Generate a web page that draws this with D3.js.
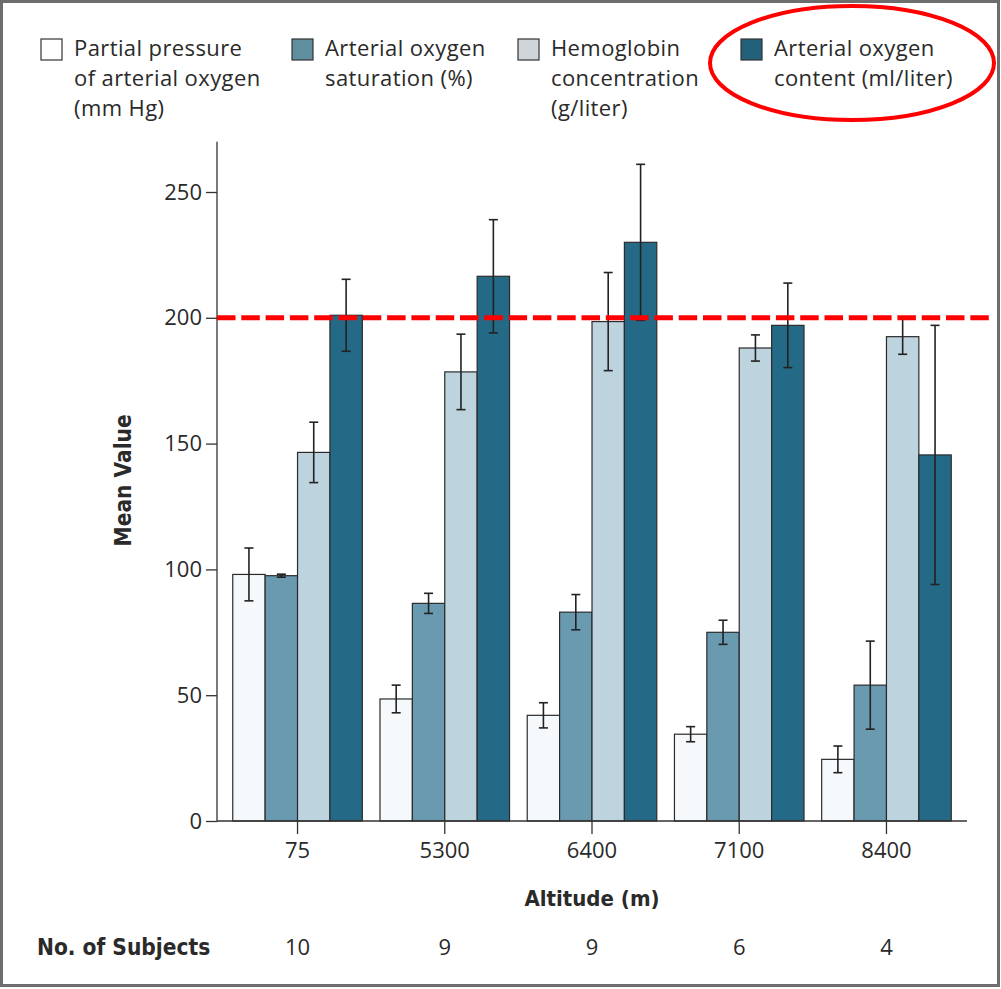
<!DOCTYPE html>
<html>
<head>
<meta charset="utf-8">
<script src="https://cdn.jsdelivr.net/npm/d3@7"></script>
<style>
  body { margin: 0; background: #fff; }
  svg text { fill: #2a2a2a; }
</style>
</head>
<body>
<script>
// values
const altitudes = ['75', '5300', '6400', '7100', '8400'];
const subjects = ['10', '9', '9', '6', '4'];
const seriesNames = ['pao2', 'sao2', 'hb', 'cao2'];
const seriesLabels = [
  ['Partial pressure', 'of arterial oxygen', '(mm Hg)'],
  ['Arterial oxygen', 'saturation (%)'],
  ['Hemoglobin', 'concentration', '(g/liter)'],
  ['Arterial oxygen', 'content (ml/liter)']
];
const pao2 = [98, 48.5, 42, 34.5, 24.5];
const pao2Err = [10.5, 5.5, 5, 3, 5.3];
const sao2 = [97.5, 86.5, 83, 75, 54];
const sao2Err = [0.6, 4, 7, 4.8, 17.5];
const hb = [146.5, 178.5, 198.5, 188, 192.5];
const hbErr = [12, 15, 19.5, 5.2, 7];
const cao2 = [201, 216.5, 230, 197, 145.5];
const cao2Err = [14.3, 22.5, 31, 16.8, 51.5];
const yTicks = [0, 50, 100, 150, 200, 250];
const refValue = 200;

const colors = ['#f6f9fb', '#6a9ab0', '#bdd3de', '#246a86'];
const legendColors = ['#ffffff', '#5f8f9f', '#cfd5d8', '#22607a'];

const width = 1001, height = 989;

const svg = d3.select('body').append('svg')
    .attr('width', width)
    .attr('height', height);

svg.append('rect')
    .attr('x', 1.5).attr('y', 1.5)
    .attr('width', width - 4).attr('height', height - 5)
    .attr('fill', '#fff')
    .attr('stroke', '#6d6d6d')
    .attr('stroke-width', 3);

const table = altitudes.map((a, i) => ({
  altitude: a,
  values: [
    { key: 'pao2', v: pao2[i], e: pao2Err[i] },
    { key: 'sao2', v: sao2[i], e: sao2Err[i] },
    { key: 'hb', v: hb[i], e: hbErr[i] },
    { key: 'cao2', v: cao2[i], e: cao2Err[i] }
  ]
}));

const x0 = d3.scaleBand()
    .domain(altitudes)
    .range([217, 967])
    .paddingInner(0.12)
    .paddingOuter(0.107);

const x1 = d3.scaleBand()
    .domain(seriesNames)
    .range([0, x0.bandwidth()]);

const y = d3.scaleLinear()
    .domain([0, 250])
    .range([821, 192]);

const color = d3.scaleOrdinal().domain(seriesNames).range(colors);

// bars
const groups = svg.append('g').selectAll('g')
    .data(table)
    .enter().append('g')
    .attr('transform', d => `translate(${x0(d.altitude)},0)`);

groups.selectAll('rect')
    .data(d => d.values)
    .enter().append('rect')
    .attr('x', d => x1(d.key))
    .attr('y', d => y(d.v))
    .attr('width', x1.bandwidth())
    .attr('height', d => y(0) - y(d.v))
    .attr('fill', d => color(d.key))
    .attr('stroke', '#2b2b2b')
    .attr('stroke-width', 1.2);

// error bars
const err = groups.selectAll('g.err')
    .data(d => d.values)
    .enter().append('g')
    .attr('class', 'err')
    .attr('stroke', '#222')
    .attr('stroke-width', 1.6);

err.append('line')
    .attr('x1', d => x1(d.key) + x1.bandwidth() / 2)
    .attr('x2', d => x1(d.key) + x1.bandwidth() / 2)
    .attr('y1', d => y(d.v + d.e))
    .attr('y2', d => y(d.v - d.e));
err.append('line')
    .attr('x1', d => x1(d.key) + x1.bandwidth() / 2 - 4.5)
    .attr('x2', d => x1(d.key) + x1.bandwidth() / 2 + 4.5)
    .attr('y1', d => y(d.v + d.e))
    .attr('y2', d => y(d.v + d.e));
err.append('line')
    .attr('x1', d => x1(d.key) + x1.bandwidth() / 2 - 4.5)
    .attr('x2', d => x1(d.key) + x1.bandwidth() / 2 + 4.5)
    .attr('y1', d => y(d.v - d.e))
    .attr('y2', d => y(d.v - d.e));

// y axis
const yAxis = svg.append('g')
    .attr('transform', 'translate(217,0)')
    .call(d3.axisLeft(y).tickValues(yTicks).tickSize(11).tickPadding(4).tickSizeOuter(0));
yAxis.select('.domain').attr('d', `M0,${y(270)}V${y(0)}`).attr('stroke', '#333').attr('stroke-width', 1.3);
yAxis.selectAll('.tick line').attr('stroke', '#333').attr('stroke-width', 1.3);
yAxis.selectAll('.tick text')
    .attr('font-family', 'Open Sans, sans-serif')
    .attr('font-size', 22)
    .attr('fill', '#2f3440');

// x axis
const xAxis = svg.append('g')
    .attr('transform', `translate(0,${y(0)})`)
    .call(d3.axisBottom(x0).tickSize(13).tickPadding(8).tickSizeOuter(0));
xAxis.select('.domain').attr('d', 'M217,0H967').attr('stroke', '#333').attr('stroke-width', 1.3);
xAxis.selectAll('.tick line').attr('stroke', '#333').attr('stroke-width', 1.3);
xAxis.selectAll('.tick text')
    .attr('font-family', 'Open Sans, sans-serif')
    .attr('font-size', 22)
    .attr('fill', '#2f3440');

// axis titles
svg.append('text')
    .attr('transform', `translate(131,${(y(0) + y(270)) / 2 - 1}) rotate(-90)`)
    .attr('text-anchor', 'middle')
    .attr('font-family', 'DejaVu Sans Condensed, DejaVu Sans, sans-serif')
    .attr('font-weight', 'bold')
    .attr('font-size', 22.5)
    .text('Mean Value');

svg.append('text')
    .attr('x', 592).attr('y', 906)
    .attr('text-anchor', 'middle')
    .attr('font-family', 'DejaVu Sans Condensed, DejaVu Sans, sans-serif')
    .attr('font-weight', 'bold')
    .attr('font-size', 22)
    .text('Altitude (m)');

svg.append('text')
    .attr('x', 37).attr('y', 955)
    .attr('font-family', 'DejaVu Sans Condensed, DejaVu Sans, sans-serif')
    .attr('font-weight', 'bold')
    .attr('font-size', 22.5)
    .text('No. of Subjects');

svg.append('g').selectAll('text')
    .data(subjects)
    .enter().append('text')
    .attr('x', (d, i) => x0(altitudes[i]) + x0.bandwidth() / 2)
    .attr('y', 955)
    .attr('text-anchor', 'middle')
    .attr('font-family', 'Open Sans, sans-serif')
    .attr('font-size', 22)
    .attr('fill', '#2f3440')
    .text(d => d);

// reference line
svg.append('line')
    .attr('x1', 217).attr('x2', 992)
    .attr('y1', y(refValue)).attr('y2', y(refValue))
    .attr('stroke', '#ff0000')
    .attr('stroke-width', 5)
    .attr('stroke-dasharray', '18.5,5.8');

// legend
const legendX = [41, 292, 518, 741];
const legend = svg.append('g').selectAll('g')
    .data(seriesNames)
    .enter().append('g')
    .attr('transform', (d, i) => `translate(${legendX[i]},39)`);

legend.append('rect')
    .attr('width', 21).attr('height', 21)
    .attr('fill', (d, i) => legendColors[i])
    .attr('stroke', '#333')
    .attr('stroke-width', 1.2);

legend.append('text')
    .attr('x', 33)
    .attr('font-family', 'Open Sans, sans-serif')
    .attr('font-size', 22)
    .attr('letter-spacing', 0.4)
    .attr('fill', '#333')
    .selectAll('tspan')
    .data((d, i) => seriesLabels[i])
    .enter().append('tspan')
    .attr('x', 33)
    .attr('y', (d, j) => 17 + j * 30)
    .text(d => d);

// red highlight ellipse
svg.append('ellipse')
    .attr('cx', 852).attr('cy', 63)
    .attr('rx', 142).attr('ry', 57)
    .attr('fill', 'none')
    .attr('stroke', '#ff0000')
    .attr('stroke-width', 4);
</script>
</body>
</html>
